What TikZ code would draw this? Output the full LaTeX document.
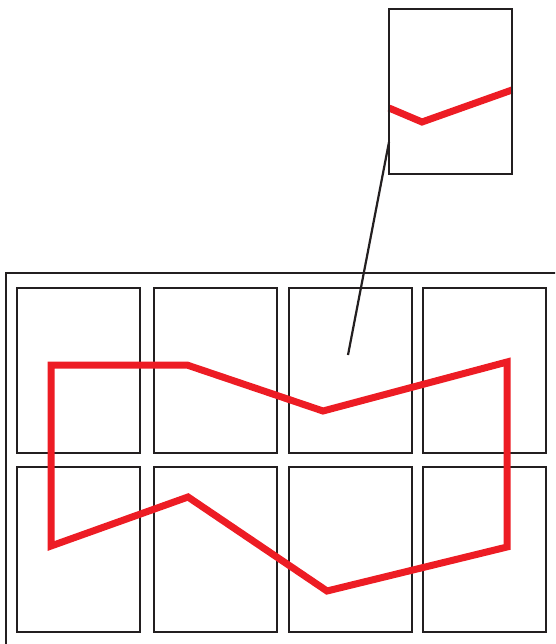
\documentclass[tikz,border=0pt]{standalone}
\usetikzlibrary{positioning}
\definecolor{routered}{HTML}{ED1C24}
\definecolor{framegray}{HTML}{231F20}

\begin{document}
\begin{tikzpicture}[x=1pt,y=-1pt,
    panel/.style={draw=framegray,line width=2.6pt,minimum width=123pt,minimum height=165pt,inner sep=0pt,outer sep=0pt,anchor=north west},
    route/.style={draw=routered,line width=7pt,miter limit=10},
    leader/.style={draw=framegray,line width=2.2pt}]
  \useasboundingbox (0,0) rectangle (555,644);
  \clip (0,0) rectangle (555,644);

  % sheet with the eight panels
  \draw[framegray,line width=2.6pt] (6,273) rectangle (580,670);
  \foreach \c/\x in {1/17,2/154,3/289,4/423}
    \foreach \r/\y in {1/288,2/467}
      \node[panel] (p\r\c) at (\x,\y) {};

  % route over the panels
  \draw[route] (51,365) -- (187,365) -- (323,411) -- (507,362) -- (507,547)
    -- (327,591) -- (188,497) -- (51,546) -- cycle;

  % enlarged panel
  \draw[route] (389,108) -- (422,122) -- (512,90);
  \node[panel] (inset) at (389,9) {};
  \coordinate (target) at (348,355);
  \draw[leader] ([yshift=-50.5pt]inset.west) -- (target);
\end{tikzpicture}
\end{document}
